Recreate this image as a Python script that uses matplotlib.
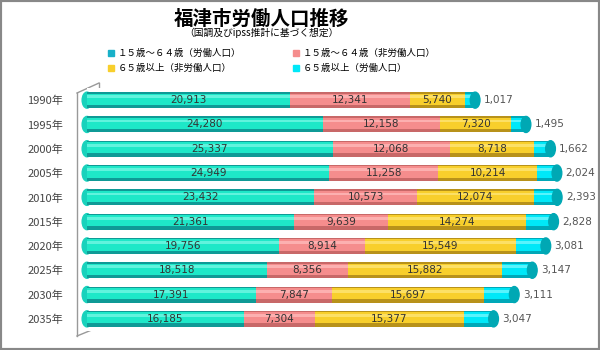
import matplotlib.pyplot as plt
from matplotlib.lines import Line2D
from matplotlib.patches import Ellipse, Rectangle

plt.rcParams['font.family'] = ['Noto Sans CJK JP', 'DejaVu Sans']

# データ（国調及びipss推計）
years = ["1990年", "1995年", "2000年", "2005年", "2010年",
         "2015年", "2020年", "2025年", "2030年", "2035年"]
work_15_64 = [20913, 24280, 25337, 24949, 23432, 21361, 19756, 18518, 17391, 16185]
nonwork_15_64 = [12341, 12158, 12068, 11258, 10573, 9639, 8914, 8356, 7847, 7304]
nonwork_65 = [5740, 7320, 8718, 10214, 12074, 14274, 15549, 15882, 15697, 15377]
work_65 = [1017, 1495, 1662, 2024, 2393, 2828, 3081, 3147, 3111, 3047]

series = [
    ("１５歳～６４歳（労働人口）", work_15_64, "#1ee8c8", "#0f9a96", "#7ff8e6"),
    ("１５歳～６４歳（非労働人口）", nonwork_15_64, "#f58d8d", "#c86868", "#ffc0c0"),
    ("６５歳以上（非労働人口）", nonwork_65, "#f8cf2c", "#b8921a", "#ffe880"),
    ("６５歳以上（労働人口）", work_65, "#00e8f8", "#00a8b8", "#80f8ff"),
]

fig = plt.figure(figsize=(6, 3.5), dpi=100)
ax = fig.add_axes([87 / 600, 19 / 350, 505 / 600, 243 / 350])

ypos = list(range(len(years)))
h = 0.66
left = [0] * len(years)
for name, vals, main, dark, light in series:
    ax.barh(ypos, vals, left=left, height=h, color=dark, zorder=2)
    ax.barh([y - 0.04 for y in ypos], vals, left=left, height=h * 0.7, color=main, zorder=3)
    ax.barh([y - 0.14 for y in ypos], vals, left=left, height=h * 0.18, color=light,
            alpha=0.7, zorder=4)
    for y, v, l in zip(ypos, vals, left):
        if vals is work_65:
            ax.text(l + v + 900, y, f"{v:,}", ha="left", va="center",
                    fontsize=7.5, color="#555555", family="DejaVu Sans", zorder=6)
        else:
            ax.text(l + v / 2, y, f"{v:,}", ha="center", va="center",
                    fontsize=7.5, color="#333333", family="DejaVu Sans", zorder=6)
    left = [a + b for a, b in zip(left, vals)]

# 円柱の端
for y, tot in zip(ypos, left):
    ax.add_patch(Ellipse((tot, y), 1000, h, color="#00a8b4", zorder=5))
    ax.add_patch(Ellipse((0, y), 1000, h, color="#18d2bc", zorder=1, clip_on=False))

ax.set_xlim(0, 52060)
ax.set_ylim(9.5, -0.5)
ax.set_yticks(ypos)
ax.set_yticklabels(years, fontsize=8, color="#444444")
ax.tick_params(axis="y", length=0, pad=17)
ax.set_xticks([])
for s in ax.spines.values():
    s.set_visible(False)

# 3D風の壁
W, H = 600, 350
def fline(x0, y0, x1, y1):
    fig.add_artist(Line2D([x0 / W, x1 / W], [1 - y0 / H, 1 - y1 / H],
                          color="#999999", lw=1, zorder=0))
fline(99, 83, 99, 326)
fline(77, 93, 99, 83)
fline(77, 93, 77, 336)
fline(77, 336, 99, 327)

fig.text(0.435, 0.945, "福津市労働人口推移", ha="center", va="center",
         fontsize=14, fontweight="bold")
fig.text(0.435, 0.905, "（国調及びipss推計に基づく想定）", ha="center", va="center",
         fontsize=7)

# 凡例
leg_pos = [(108, 53), (293, 53), (108, 68), (293, 68)]
for (name, vals, main, dark, light), (lx, ly) in zip(series, leg_pos):
    fig.add_artist(Rectangle((lx / W, 1 - (ly + 3) / H), 6 / W, 6 / H,
                             color=main if vals is not work_15_64 else "#18b0c8"))
    fig.text((lx + 10) / W, 1 - ly / H, name, ha="left", va="center", fontsize=6.8)

fig.add_artist(Rectangle((0, 0), 1, 1, fill=False, edgecolor="#888888", lw=3,
                         transform=fig.transFigure))

fig.savefig("out.png", dpi=100)
